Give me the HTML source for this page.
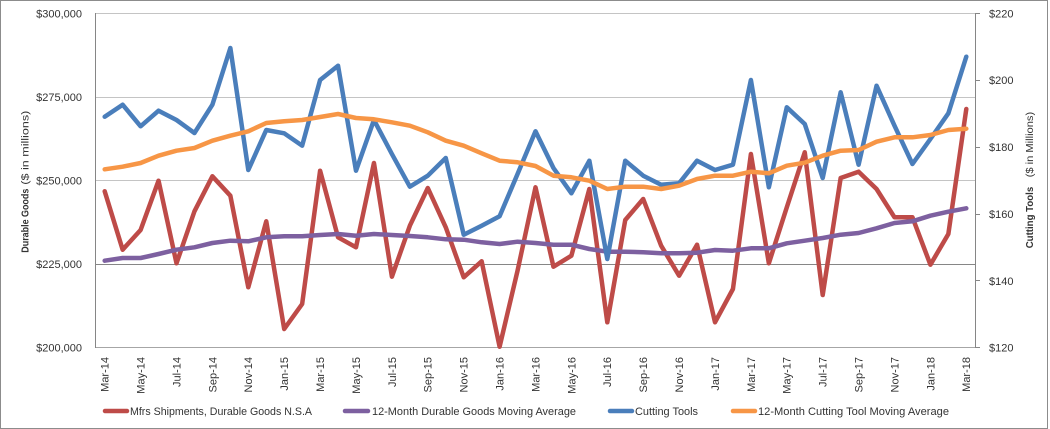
<!DOCTYPE html>
<html>
<head>
<meta charset="utf-8">
<style>
  html,body{margin:0;padding:0;background:#fff;}
  body{width:1050px;height:429px;overflow:hidden;}
  svg{display:block;}
  text{font-family:"Liberation Sans", Arial, sans-serif;fill:#333;}
</style>
</head>
<body>
<svg width="1050" height="429" viewBox="0 0 1050 429" xmlns="http://www.w3.org/2000/svg">
  <rect x="0" y="0" width="1050" height="429" fill="#fff"/>
  <rect x="0.5" y="0.5" width="1047" height="428" fill="none" stroke="#8c8c8c" stroke-width="1"/>

  <!-- gridlines -->
  <g stroke="#c4c4c4" stroke-width="1">
    <line x1="96" y1="13.5" x2="975" y2="13.5"/>
    <line x1="96" y1="97.5" x2="975" y2="97.5"/>
    <line x1="96" y1="180.5" x2="975" y2="180.5"/>
  </g>
  <line x1="96" y1="347.5" x2="975" y2="347.5" stroke="#a6a6a6" stroke-width="1"/>
  <line x1="96" y1="264.5" x2="975" y2="264.5" stroke="#868686" stroke-width="1"/>
  <!-- axes -->
  <line x1="95.5" y1="13" x2="95.5" y2="348" stroke="#868686" stroke-width="1"/>
  <line x1="975.5" y1="13" x2="975.5" y2="348" stroke="#868686" stroke-width="1"/>
  <g stroke="#868686" stroke-width="1">
    <line x1="975" y1="13.5" x2="980" y2="13.5"/>
    <line x1="975" y1="80.5" x2="980" y2="80.5"/>
    <line x1="975" y1="147.5" x2="980" y2="147.5"/>
    <line x1="975" y1="214.5" x2="980" y2="214.5"/>
    <line x1="975" y1="280.5" x2="980" y2="280.5"/>
    <line x1="975" y1="347.5" x2="980" y2="347.5"/>
  </g>

  <!-- left axis labels -->
  <g font-size="11" text-anchor="end">
    <text x="82" y="13.5" dy="0.35em">$300,000</text>
    <text x="82" y="97" dy="0.35em">$275,000</text>
    <text x="82" y="180.6" dy="0.35em">$250,000</text>
    <text x="82" y="264.2" dy="0.35em">$225,000</text>
    <text x="82" y="347.7" dy="0.35em">$200,000</text>
  </g>
  <!-- right axis labels -->
  <g font-size="11" text-anchor="start">
    <text x="989" y="13.5" dy="0.35em">$220</text>
    <text x="989" y="80.3" dy="0.35em">$200</text>
    <text x="989" y="147.2" dy="0.35em">$180</text>
    <text x="989" y="214" dy="0.35em">$160</text>
    <text x="989" y="280.9" dy="0.35em">$140</text>
    <text x="989" y="347.7" dy="0.35em">$120</text>
  </g>

  <!-- axis titles -->
  <g transform="translate(28.5,252.7) rotate(-90)">
    <text x="0" y="0" font-size="10" font-weight="bold" fill="#000" textLength="64" lengthAdjust="spacingAndGlyphs">Durable Goods</text>
    <text x="68" y="0" font-size="10.5" textLength="74" lengthAdjust="spacingAndGlyphs">($ in millions)</text>
  </g>
  <g transform="translate(1033,248.3) rotate(-90)">
    <text x="0" y="0" font-size="10" font-weight="bold" fill="#000" textLength="61.5" lengthAdjust="spacingAndGlyphs">Cutting Tools</text>
    <text x="71" y="0" font-size="10.5" textLength="65.5" lengthAdjust="spacingAndGlyphs">($ in Millions)</text>
  </g>

  <!-- x labels -->
  <g font-size="11" text-anchor="end">
    <text transform="translate(104.7,357) rotate(-90)" dy="0.35em">Mar-14</text>
    <text transform="translate(140.6,357) rotate(-90)" dy="0.35em">May-14</text>
    <text transform="translate(176.5,357) rotate(-90)" dy="0.35em">Jul-14</text>
    <text transform="translate(212.4,357) rotate(-90)" dy="0.35em">Sep-14</text>
    <text transform="translate(248.3,357) rotate(-90)" dy="0.35em">Nov-14</text>
    <text transform="translate(284.2,357) rotate(-90)" dy="0.35em">Jan-15</text>
    <text transform="translate(320.1,357) rotate(-90)" dy="0.35em">Mar-15</text>
    <text transform="translate(356,357) rotate(-90)" dy="0.35em">May-15</text>
    <text transform="translate(391.9,357) rotate(-90)" dy="0.35em">Jul-15</text>
    <text transform="translate(427.8,357) rotate(-90)" dy="0.35em">Sep-15</text>
    <text transform="translate(463.7,357) rotate(-90)" dy="0.35em">Nov-15</text>
    <text transform="translate(499.6,357) rotate(-90)" dy="0.35em">Jan-16</text>
    <text transform="translate(535.5,357) rotate(-90)" dy="0.35em">Mar-16</text>
    <text transform="translate(571.4,357) rotate(-90)" dy="0.35em">May-16</text>
    <text transform="translate(607.3,357) rotate(-90)" dy="0.35em">Jul-16</text>
    <text transform="translate(643.2,357) rotate(-90)" dy="0.35em">Sep-16</text>
    <text transform="translate(679.1,357) rotate(-90)" dy="0.35em">Nov-16</text>
    <text transform="translate(715,357) rotate(-90)" dy="0.35em">Jan-17</text>
    <text transform="translate(750.9,357) rotate(-90)" dy="0.35em">Mar-17</text>
    <text transform="translate(786.8,357) rotate(-90)" dy="0.35em">May-17</text>
    <text transform="translate(822.7,357) rotate(-90)" dy="0.35em">Jul-17</text>
    <text transform="translate(858.6,357) rotate(-90)" dy="0.35em">Sep-17</text>
    <text transform="translate(894.5,357) rotate(-90)" dy="0.35em">Nov-17</text>
    <text transform="translate(930.4,357) rotate(-90)" dy="0.35em">Jan-18</text>
    <text transform="translate(966.3,357) rotate(-90)" dy="0.35em">Mar-18</text>
  </g>

  <!-- series -->
  <g fill="none" stroke-width="4.5" stroke-linejoin="round" stroke-linecap="round">
    <polyline stroke="#be4b48" points="104.7,191.3 122.65,249.7 140.6,230 158.55,180.7 176.5,263.3 194.45,211.3 212.4,176.3 230.35,195.7 248.3,287.3 266.25,221.3 284.2,329 302.15,304 320.1,170.7 338.05,237.3 356,247.3 373.95,163 391.9,276.7 409.85,225.7 427.8,188 445.75,227.3 463.7,277.3 481.65,261.3 499.6,346.7 517.55,270.7 535.5,187.3 553.45,266.7 571.4,255.7 589.35,189 607.3,322.3 625.25,220 643.2,199 661.15,245.7 679.1,275.7 697.05,244.7 715,322.3 732.95,289 750.9,154 768.85,263.3 786.8,207.3 804.75,152.3 822.7,295 840.65,178 858.6,171.7 876.55,189 894.5,217.3 912.45,217.3 930.4,264.7 948.35,234 966.3,109"/>
    <polyline stroke="#7d60a0" points="104.7,260.7 122.65,258 140.6,258 158.55,254 176.5,249.7 194.45,247.3 212.4,243 230.35,240.7 248.3,241.3 266.25,237.3 284.2,236.3 302.15,236.3 320.1,235 338.05,234 356,235.7 373.95,234 391.9,235 409.85,236 427.8,237.3 445.75,239.3 463.7,239.7 481.65,242.3 499.6,244 517.55,241.7 535.5,243 553.45,244.7 571.4,244.7 589.35,249 607.3,251.7 625.25,251.7 643.2,252.3 661.15,253.3 679.1,253.3 697.05,252.7 715,250 732.95,250.7 750.9,248.3 768.85,248.3 786.8,243.3 804.75,240.7 822.7,238 840.65,234.7 858.6,233 876.55,228.3 894.5,223 912.45,221.3 930.4,215.7 948.35,211.7 966.3,208.3"/>
    <polyline stroke="#4a7ebb" points="104.7,116.7 122.65,104.7 140.6,126.3 158.55,110.7 176.5,120 194.45,133 212.4,104.7 230.35,48 248.3,170 266.25,130 284.2,133.3 302.15,145.7 320.1,80 338.05,65.7 356,170.7 373.95,120 391.9,154 409.85,186.7 427.8,175.7 445.75,158 463.7,234.7 481.65,225.7 499.6,216.3 517.55,174 535.5,131.3 553.45,168 571.4,193.3 589.35,160.7 607.3,259 625.25,160.7 643.2,175.7 661.15,184.7 679.1,183.3 697.05,160.7 715,170 732.95,164.7 750.9,80 768.85,187.3 786.8,107.3 804.75,124 822.7,178 840.65,92.3 858.6,164.7 876.55,85.7 894.5,125.7 912.45,164 930.4,139 948.35,113.3 966.3,56.7"/>
    <polyline stroke="#f79646" points="104.7,169.3 122.65,166.7 140.6,163 158.55,155.7 176.5,150.7 194.45,148 212.4,140.7 230.35,135.7 248.3,131.3 266.25,123 284.2,121.3 302.15,120 320.1,117 338.05,114 356,118 373.95,119.3 391.9,122.3 409.85,125.7 427.8,132.3 445.75,140.7 463.7,145.7 481.65,153.3 499.6,160.7 517.55,162.3 535.5,166 553.45,175.7 571.4,177.3 589.35,180.7 607.3,189 625.25,186.7 643.2,186.7 661.15,189 679.1,185.7 697.05,179 715,175.7 732.95,175.7 750.9,171.7 768.85,173.3 786.8,165.7 804.75,162.7 822.7,155.7 840.65,150.7 858.6,150 876.55,141.7 894.5,137.3 912.45,137.3 930.4,135 948.35,130 966.3,128.7"/>
  </g>

  <!-- legend -->
  <g stroke-width="4.5" stroke-linecap="round">
    <line x1="105" y1="411" x2="127" y2="411" stroke="#be4b48"/>
    <line x1="345" y1="411" x2="368" y2="411" stroke="#7d60a0"/>
    <line x1="610" y1="411" x2="632" y2="411" stroke="#4a7ebb"/>
    <line x1="733" y1="411" x2="755" y2="411" stroke="#f79646"/>
  </g>
  <g font-size="11">
    <text x="130" y="411" dy="0.35em" textLength="182" lengthAdjust="spacingAndGlyphs">Mfrs Shipments, Durable Goods N.S.A</text>
    <text x="372" y="411" dy="0.35em" textLength="204" lengthAdjust="spacingAndGlyphs">12-Month Durable Goods Moving Average</text>
    <text x="635" y="411" dy="0.35em" textLength="63" lengthAdjust="spacingAndGlyphs">Cutting Tools</text>
    <text x="758" y="411" dy="0.35em" textLength="191" lengthAdjust="spacingAndGlyphs">12-Month Cutting Tool Moving Average</text>
  </g>
</svg>
</body>
</html>
